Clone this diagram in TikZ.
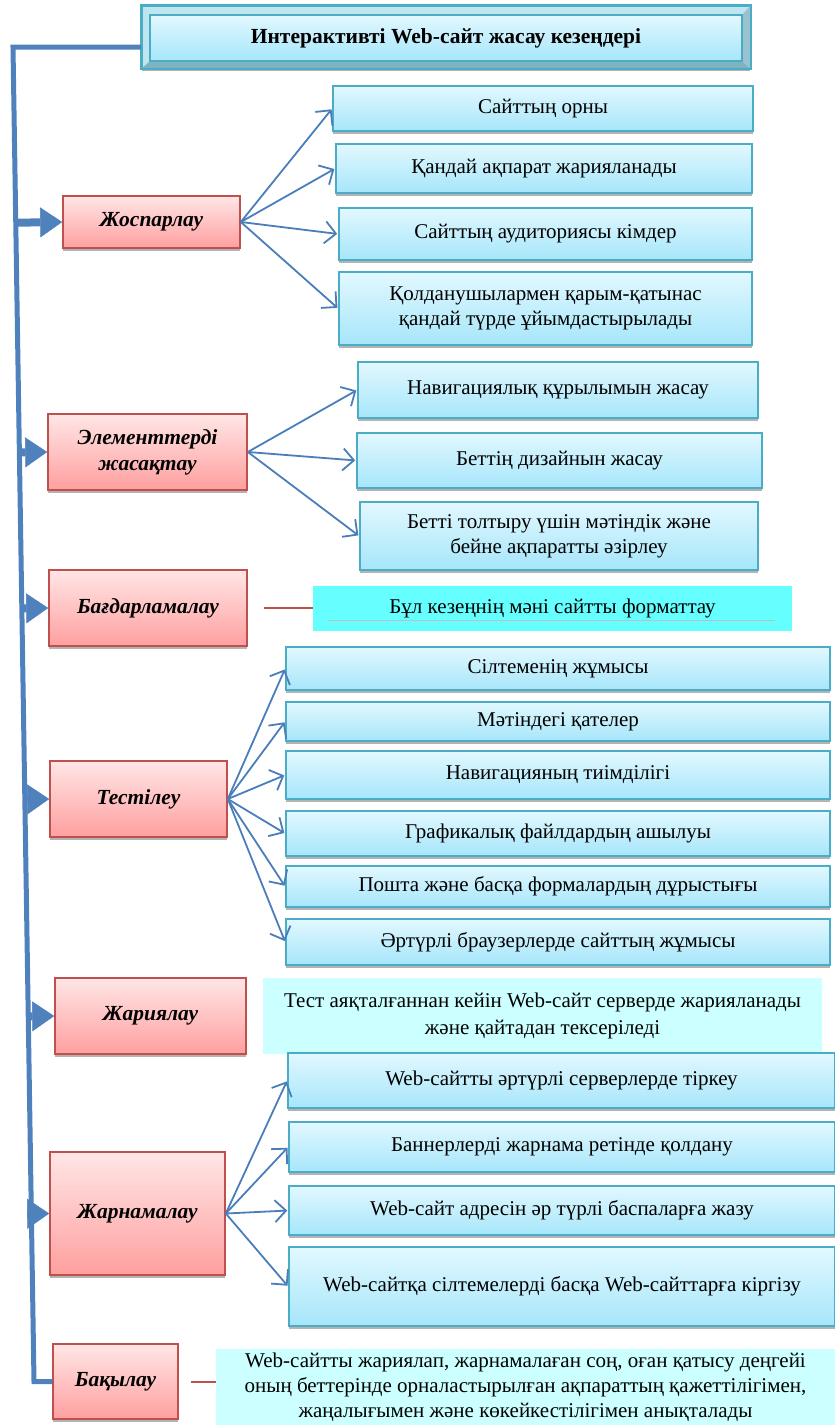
\documentclass[tikz,border=0pt]{standalone}
\usepackage{fontspec}
\setmainfont{Liberation Serif}
\usetikzlibrary{arrows.meta,shadows,calc}
\definecolor{btop}{HTML}{E2F8FF}
\definecolor{bbot}{HTML}{A6E6FA}
\definecolor{bborder}{HTML}{4BACC6}
\definecolor{ptop}{HTML}{FFE6E6}
\definecolor{pbot}{HTML}{FF9F9F}
\definecolor{pborder}{HTML}{C0504D}
\definecolor{cyanbox}{HTML}{66FFFF}
\definecolor{lcyan}{HTML}{CCFFFF}
\definecolor{cblue}{HTML}{4A7EBB}
\definecolor{sblue}{HTML}{4F81BD}
\definecolor{bevlight}{HTML}{BFE6EF}
\definecolor{bevdark}{HTML}{7FB3C0}
\newcommand\myfs{\fontsize{21}{25}\selectfont}
\newcommand\myfsb{\fontsize{21}{27}\selectfont}
\begin{document}
\begin{tikzpicture}[x=1pt,y=-1pt,
  shad/.style={drop shadow={shadow xshift=0pt,shadow yshift=-3pt,fill=black!50,opacity=0.6}},
  bbox/.style={shad,draw=bborder,line width=1.6pt,top color=btop,bottom color=bbot,align=center,font=\myfs,inner sep=2pt},
  pbox/.style={shad,draw=pborder,line width=1.6pt,top color=ptop,bottom color=pbot,align=center,font=\fontsize{21.5}{26}\selectfont\bfseries\itshape,inner sep=2pt},
  cbox/.style={fill=cyanbox,align=center,font=\myfs,inner sep=2pt},
  lbox/.style={fill=lcyan,align=center,inner sep=2pt},
  conn/.style={draw=cblue,line width=1.8pt,-{Straight Barb[length=11pt,width=22pt,line width=1.8pt]},shorten >=1pt},
  spine/.style={draw=sblue,line width=5pt},
  sarrow/.style={draw=sblue,line width=8pt,-{Triangle[length=22pt,width=30pt,line width=0.5pt]}},
  redline/.style={draw=pborder,line width=2pt}]
\useasboundingbox (0,0) rectangle (835,1425);

% title
\node[shad,draw=bborder,line width=1.6pt,fill=bevlight,minimum width=608pt,minimum height=62pt,inner sep=0pt] (tt) at (446,37) {};
\fill[bevdark] (tt.south west) -- (tt.south east) -- ($(tt.south east)+(-8,-7)$) -- ($(tt.south west)+(8,-7)$) -- cycle;
\fill[bevdark!80] (tt.north east) -- (tt.south east) -- ($(tt.south east)+(-8,-7)$) -- ($(tt.north east)+(-8,9)$) -- cycle;
\node[draw=bborder,line width=1.4pt,top color=btop,bottom color=bbot,minimum width=592pt,minimum height=46pt,inner sep=0pt,font=\fontsize{21.5}{26}\selectfont\bfseries] (ti) at (446,38) {Интерактивті Web-сайт жасау кезеңдері};
\draw[bborder,line width=1.6pt] (tt.north west) rectangle (tt.south east);

% pink stage nodes
\node[pbox,minimum width=177pt,minimum height=52pt] (jo) at (151.5,222) {Жоспарлау};
\node[pbox,minimum width=199pt,minimum height=76pt] (el) at (147.5,452) {Элементтерді\\жасақтау};
\node[pbox,minimum width=198pt,minimum height=76pt] (bg) at (148,608) {Бағдарламалау};
\node[pbox,minimum width=177pt,minimum height=76pt] (ts) at (138.5,799) {Тестілеу};
\node[pbox,minimum width=191pt,minimum height=76pt] (jr) at (150.5,1016) {Жариялау};
\node[pbox,minimum width=175pt,minimum height=123pt] (jn) at (137.5,1213.5) {Жарнамалау};
\node[pbox,minimum width=125pt,minimum height=75pt] (bk) at (115.5,1381.5) {Бақылау};

% blue boxes
\node[bbox,minimum width=420pt,minimum height=45pt] (a1) at (543,108.5) {Сайттың орны};
\node[bbox,minimum width=416pt,minimum height=49pt] (a2) at (544,168.5) {Қандай ақпарат жарияланады};
\node[bbox,minimum width=413pt,minimum height=52pt] (a3) at (545.5,234) {Сайттың аудиториясы кімдер};
\node[bbox,minimum width=413pt,minimum height=73pt] (a4) at (545.5,308.5) {Қолданушылармен қарым-қатынас\\қандай түрде ұйымдастырылады};
\node[bbox,minimum width=400pt,minimum height=56pt] (e1) at (558,390) {Навигациялық құрылымын жасау};
\node[bbox,minimum width=405pt,minimum height=55pt] (e2) at (559.5,460.5) {Беттің дизайнын жасау};
\node[bbox,minimum width=398pt,minimum height=68pt] (e3) at (559,536) {Бетті толтыру үшін мәтіндік және\\бейне ақпаратты әзірлеу};
\node[cbox,minimum width=479pt,minimum height=45pt] (p1) at (552.5,608) {Бұл кезеңнің мәні сайтты форматтау};
\draw[black!25,line width=1pt] ($(p1.south west)+(15,-10)$) -- ($(p1.south east)+(-17,-10)$);
\node[bbox,minimum width=544pt,minimum height=43pt] (t1) at (558,668.5) {Сілтеменің жұмысы};
\node[bbox,minimum width=544pt,minimum height=39pt] (t2) at (558,721.5) {Мәтіндегі қателер};
\node[bbox,minimum width=544pt,minimum height=48pt] (t3) at (558,775) {Навигацияның тиімділігі};
\node[bbox,minimum width=544pt,minimum height=45pt] (t4) at (558,833.5) {Графикалық файлдардың ашылуы};
\node[bbox,minimum width=544pt,minimum height=41pt] (t5) at (558,886.5) {Пошта және басқа формалардың дұрыстығы};
\node[bbox,minimum width=544pt,minimum height=46pt] (t6) at (558,942) {Әртүрлі браузерлерде сайттың жұмысы};
\node[lbox,font=\myfsb,minimum width=559pt,minimum height=76pt] (j1) at (542.5,1016) {Тест аяқталғаннан кейін Web-сайт серверде жарияланады\\және қайтадан тексеріледі};
\node[bbox,minimum width=547pt,minimum height=55pt] (r1) at (561.5,1080.5) {Web-сайтты әртүрлі серверлерде тіркеу};
\node[bbox,minimum width=546pt,minimum height=50pt] (r2) at (562,1147) {Баннерлерді жарнама ретінде қолдану};
\node[bbox,minimum width=546pt,minimum height=49pt] (r3) at (562,1210.5) {Web-сайт адресін әр түрлі баспаларға жазу};
\node[bbox,minimum width=546pt,minimum height=79pt] (r4) at (562,1286.5) {Web-сайтқа сілтемелерді басқа Web-сайттарға кіргізу};
\node[lbox,font=\myfs,minimum width=619pt,minimum height=76pt] (k1) at (525.5,1387) {Web-сайтты жариялап, жарнамалаған соң, оған қатысу деңгейі\\оның беттерінде орналастырылған ақпараттың қажеттілігімен,\\жаңалығымен және көкейкестілігімен анықталады};

% connectors
\foreach \t in {a1,a2,a3,a4} \draw[conn] (jo.east) -- (\t.west);
\foreach \t in {e1,e2,e3} \draw[conn] (el.east) -- (\t.west);
\foreach \t in {t1,t2,t3,t4,t5,t6} \draw[conn] (ts.east) -- (\t.west);
\foreach \t in {r1,r2,r3,r4} \draw[conn] (jn.east) -- (\t.west);
\draw[redline] ($(bg.east)+(16,0)$) -- (p1.west);
\draw[redline] ($(bk.east)+(12,0)$) -- (k1.west |- bk.east);

% spine
\coordinate (s1) at (13,47);
\coordinate (s2) at (34,1381.5);
\foreach \p in {jo,el,bg,ts,jr,jn} \draw[sarrow] ($(s1)!(\p.west)!(s2)$) -- (\p.west);
\draw[spine] (tt.west |- s1) -- (s1) -- (s2) -- (bk.west);
\end{tikzpicture}
\end{document}
